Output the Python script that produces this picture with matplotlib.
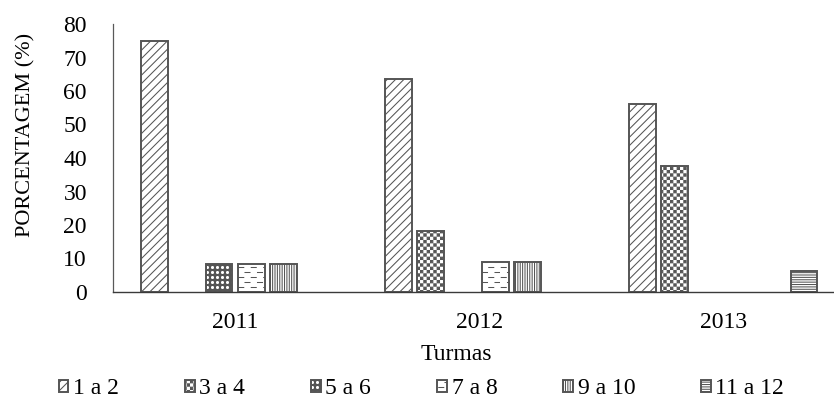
import numpy as np
import matplotlib
matplotlib.use("Agg")
import matplotlib.pyplot as plt
from matplotlib import hatch as mhatch
from matplotlib.path import Path

# ---- data -------------------------------------------------------------
anos = ["2011", "2012", "2013"]
faixas = ["1 a 2", "3 a 4", "5 a 6", "7 a 8", "9 a 10", "11 a 12"]
pct_1a2 = [75.0, 63.6, 56.25]
pct_3a4 = [0.0, 18.2, 37.5]
pct_5a6 = [8.33, 0.0, 0.0]
pct_7a8 = [8.33, 9.1, 0.0]
pct_9a10 = [8.33, 9.1, 0.0]
pct_11a12 = [0.0, 0.0, 6.25]
y_ticks = [0, 10, 20, 30, 40, 50, 60, 70, 80]


# ---- extra fill patterns ----------------------------------------------
class CheckerHatch(mhatch.HatchPatternBase):
    """Checkerboard of filled squares ('o')."""

    def __init__(self, hatch, density):
        self.n = 15 * hatch.count("o")
        self.num_vertices = 2 * self.n * self.n * 5

    def set_vertices_and_codes(self, vertices, codes):
        s = 1.0 / (2 * self.n)
        e = 0.005
        sq = np.array([[e, e], [s - e, e], [s - e, s - e], [e, s - e], [e, e]])
        parts = [sq + [(2 * j + k % 2) * s, k * s]
                 for k in range(2 * self.n) for j in range(self.n)]
        vertices[:] = np.concatenate(parts)
        codes[:] = np.tile([Path.MOVETO, Path.LINETO, Path.LINETO,
                            Path.LINETO, Path.CLOSEPOLY], len(parts))


class DashHatch(mhatch.HatchPatternBase):
    """Staggered short horizontal dashes ('*')."""

    def __init__(self, hatch, density):
        c = hatch.count("*")
        self.rows = 20 * c
        self.cols = 8 * c
        self.num_vertices = self.rows * self.cols * 2

    def set_vertices_and_codes(self, vertices, codes):
        pts = []
        for r in range(self.rows):
            y = (r + 0.5) / self.rows
            for j in range(self.cols):
                x0 = (j + 0.5 * (r % 2) + 0.1) / self.cols
                pts += [[x0, y], [x0 + 0.4 / self.cols, y]]
        vertices[:] = np.array(pts)
        codes[:] = np.tile([Path.MOVETO, Path.LINETO], self.rows * self.cols)


class SphereHatch(mhatch.HatchPatternBase):
    """Filled cells with round holes ('.')."""

    def __init__(self, hatch, density):
        self.n = 20 * hatch.count(".")
        self.num_vertices = self.n * self.n * (5 + 17)

    def set_vertices_and_codes(self, vertices, codes):
        s = 1.0 / self.n
        sq = np.array([[0, 0], [s, 0], [s, s], [0, s], [0, 0]])
        t = np.linspace(0, -2 * np.pi, 17)
        hole = np.column_stack([np.cos(t), np.sin(t)]) * 0.42 * s + s / 2
        cell = np.vstack([sq, hole])
        cell_codes = ([Path.MOVETO] + [Path.LINETO] * 3 + [Path.CLOSEPOLY]
                      + [Path.MOVETO] + [Path.LINETO] * 15 + [Path.CLOSEPOLY])
        parts = [cell + [j * s, k * s]
                 for k in range(self.n) for j in range(self.n)]
        vertices[:] = np.concatenate(parts)
        codes[:] = np.tile(cell_codes, len(parts))


mhatch._hatch_types = [mhatch.HorizontalHatch, mhatch.VerticalHatch,
                       mhatch.NorthEastHatch, mhatch.SouthEastHatch,
                       CheckerHatch, mhatch.LargeCircles,
                       SphereHatch, DashHatch]

# ---- style ------------------------------------------------------------
plt.rcParams["font.family"] = ["Liberation Serif", "DejaVu Serif"]
plt.rcParams["hatch.linewidth"] = 0.75
edge = "#555555"
fs = 17

W, H = 834, 401
fig = plt.figure(figsize=(W / 100, H / 100), dpi=100)
ax_left, ax_bottom, ax_top = 113.3, 292.0, 24.0
ax = fig.add_axes([ax_left / W, (H - ax_bottom) / H,
                   (W - ax_left) / W, (ax_bottom - ax_top) / H])

series = [pct_1a2, pct_3a4, pct_5a6, pct_7a8, pct_9a10, pct_11a12]
hatches = ["////", "o", ".", "*", "|||||||", "-------"]
x = np.arange(len(anos))
pitch, width = 0.1324, 0.1094

for i, (vals, lab, h) in enumerate(zip(series, faixas, hatches)):
    vals = np.asarray(vals)
    keep = vals > 0
    ax.bar(x[keep] + (i - 2.5) * pitch, vals[keep], width, label=lab,
           facecolor="white", edgecolor=edge, linewidth=1.4, hatch=h,
           zorder=3)

ax.set_ylim(0, 80)
ax.set_xlim(-0.5, -0.5 + (W - ax_left) / 244.0)
ax.set_yticks(y_ticks)
ax.set_xticks(x)
ax.set_xticklabels(anos)
ax.tick_params(axis="x", length=0, pad=14.4, labelsize=fs)
ax.tick_params(axis="y", length=0, pad=19, labelsize=fs)

for s in ("top", "right"):
    ax.spines[s].set_visible(False)
ax.spines["left"].set_color("#595959")
ax.spines["left"].set_linewidth(0.9)
ax.spines["bottom"].set_color("#3a3a3a")
ax.spines["bottom"].set_linewidth(1.0)
ax.spines["bottom"].set_zorder(4)

ax.set_xlabel("Turmas", fontsize=fs)
ax.xaxis.set_label_coords((456.5 - ax_left) / (W - ax_left),
                          (ax_bottom - 343.5) / (ax_bottom - ax_top))
ax.set_ylabel("PORCENTAGEM (%)", fontsize=16, va="center")
ax.yaxis.set_label_coords((26 - ax_left) / (W - ax_left),
                          (ax_bottom - 134.5) / (ax_bottom - ax_top))

fig.legend(loc="center left", bbox_to_anchor=(59 / W, 1 - 389 / H),
           ncol=6, frameon=False, fontsize=fs, handlelength=0.4,
           handleheight=0.4, handletextpad=0.2, columnspacing=2.8,
           borderpad=0, borderaxespad=0)

fig.savefig("out.png", dpi=100)
